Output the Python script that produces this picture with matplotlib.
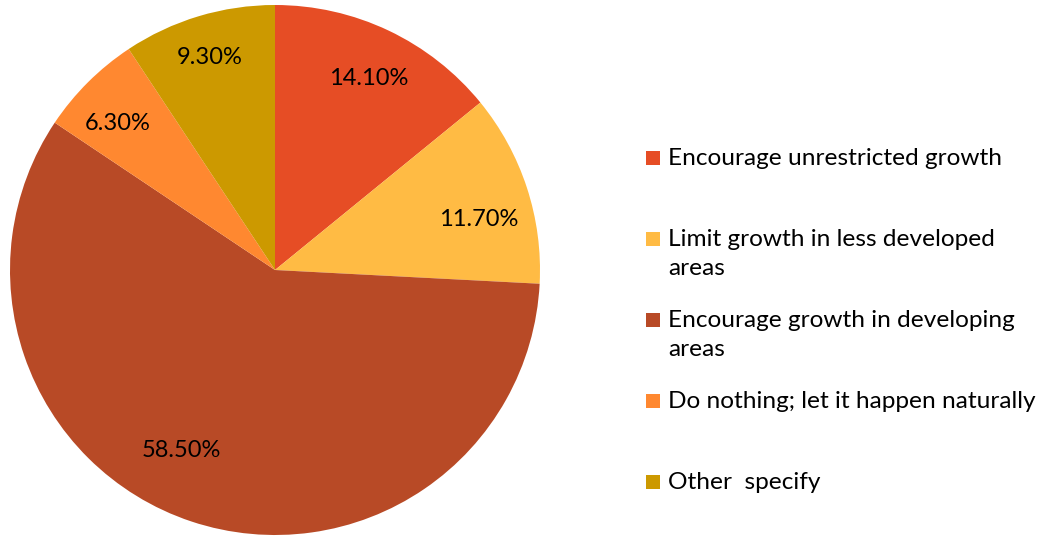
import matplotlib
matplotlib.use("Agg")
import matplotlib.pyplot as plt
from matplotlib.patches import Rectangle

categories = [
    "Encourage unrestricted growth",
    "Limit growth in less developed\nareas",
    "Encourage growth in developing\nareas",
    "Do nothing; let it happen naturally",
    "Other  specify",
]
values = [14.1, 11.7, 58.5, 6.3, 9.3]
pct_labels = ["14.10%", "11.70%", "58.50%", "6.30%", "9.30%"]
colors = ["#E64D25", "#FFBB44", "#B84A26", "#FF8830", "#CC9900"]

# label anchor positions (in units of pie radius), layout only
label_pos = [(0.355, 0.732), (0.770, 0.200), (-0.355, -0.675),
             (-0.592, 0.562), (-0.245, 0.811)]

plt.rcParams['font.family'] = ['Lato', 'DejaVu Sans']
W, H = 1047, 537
fig = plt.figure(figsize=(W / 100, H / 100), dpi=100)
cx, cy, r = 275, 270, 265
ax = fig.add_axes([(cx - r) / W, (H - cy - r) / H, 2 * r / W, 2 * r / H])
wedges, _ = ax.pie(values, colors=colors, startangle=90, counterclock=False,
                   radius=1, wedgeprops=dict(linewidth=0))
for lab, (px, py) in zip(pct_labels, label_pos):
    ax.text(px, py, lab, ha='center', va='center_baseline',
            fontsize=17, color='black')
ax.set_xlim(-1, 1)
ax.set_ylim(-1, 1)
ax.set_aspect('equal')
ax.axis('off')

# legend
y0 = 158
step = 81
for i, (cat, col) in enumerate(zip(categories, colors)):
    y = y0 + step * i
    fig.patches.append(Rectangle((646 / W, 1 - (y + 7) / H), 14 / W, 14 / H,
                                 transform=fig.transFigure, facecolor=col,
                                 edgecolor='none'))
    fig.text(668 / W, 1 - (y - 10) / H, cat, ha='left', va='top',
             fontsize=17.6, color='black', linespacing=1.5)

fig.savefig("out.png", dpi=100)
